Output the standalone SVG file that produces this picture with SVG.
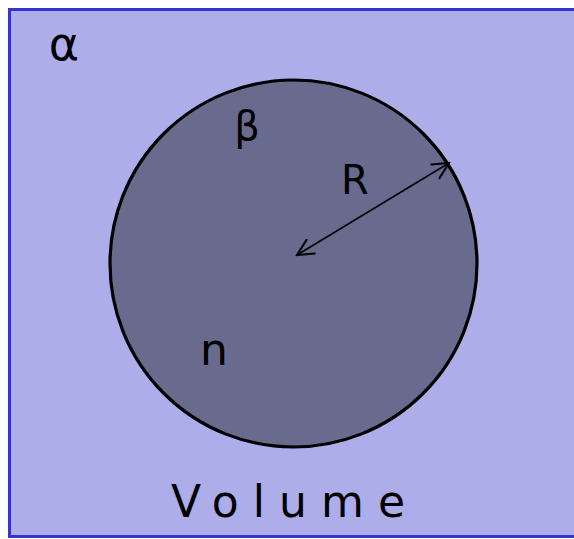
<svg xmlns="http://www.w3.org/2000/svg" width="574" height="539" viewBox="0 0 574 539">
<style>
.lbl{font-family:"DejaVu Sans","Liberation Sans",sans-serif;fill:#000;font-weight:normal}
</style>
<defs>
<marker id="open" viewBox="0 0 20 20" refX="18" refY="10" markerWidth="20" markerHeight="20" markerUnits="userSpaceOnUse" orient="auto-start-reverse">
<path d="M2,2 L18,10 L2,18" fill="none" stroke="#000" stroke-width="2" stroke-linecap="round"/>
</marker>
</defs>
<rect width="574" height="539" fill="#ffffff"/>
<g id="volume">
<rect x="9.5" y="9.5" width="570" height="527" fill="#adadea" stroke="#3535cc" stroke-width="3"/>
<text class="lbl" x="64" y="60" font-size="46" text-anchor="middle">α</text>
<text class="lbl" x="288" y="517" font-size="44" text-anchor="middle" textLength="234" lengthAdjust="spacing">Volume</text>
</g>
<g id="sphere">
<circle cx="293.5" cy="263.5" r="183.5" fill="#686a8e" stroke="#000" stroke-width="3.2"/>
<text class="lbl" x="247" y="140" font-size="40" text-anchor="middle">β</text>
<text class="lbl" x="355" y="194" font-size="40" text-anchor="middle">R</text>
<text class="lbl" x="214" y="365" font-size="44" text-anchor="middle">n</text>
</g>
<g id="connectors">
<line x1="297" y1="255" x2="449" y2="163" stroke="#000" stroke-width="1.6" marker-start="url(#open)" marker-end="url(#open)"/>
</g>
</svg>
